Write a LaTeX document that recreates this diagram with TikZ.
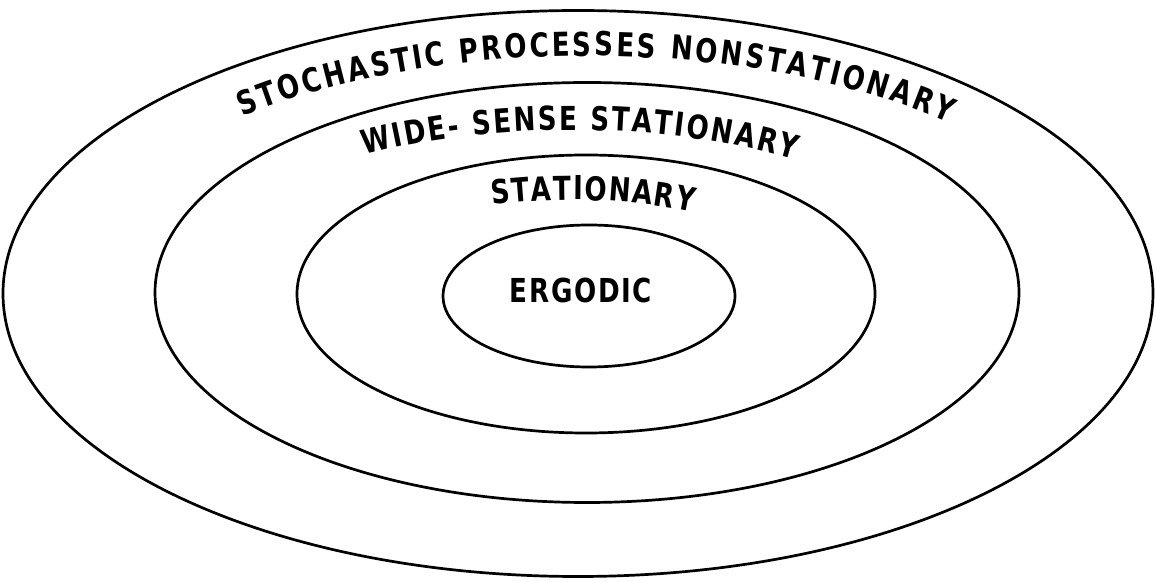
\documentclass[tikz,border=0pt]{standalone}
\usepackage{fontspec}
\setmainfont{DejaVu Sans Condensed}[BoldFont={DejaVu Sans Condensed Bold}]
\newfontfamily\letteringfam{DejaVu Sans Condensed Bold}[FakeStretch=0.88]
\usetikzlibrary{decorations.text}
\newcommand{\lblfont}{\letteringfam\fontsize{33}{38}\selectfont}
\tikzset{
  ring/.style={draw=black, line width=2.7pt},
  curvedlabel/.style={decorate, decoration={text along path, text align={fit to path}, text={#1}}},
}
\begin{document}
\begin{tikzpicture}[x=1pt,y=1pt]
\useasboundingbox (0,0) rectangle (1156,581);
% centres
\coordinate (c1) at (578,287.5);
\coordinate (c2) at (587,288.5);
\coordinate (c3) at (586,287);
\coordinate (c4) at (589,285);
\coordinate (t1) at (588,288);
\coordinate (t2) at (571,289);
\coordinate (t3) at (572,287);
% ellipses
\draw[ring] (c1) ellipse [x radius=575pt, y radius=283pt];
\draw[ring] (c2) ellipse [x radius=432pt, y radius=210pt];
\draw[ring] (c3) ellipse [x radius=289pt, y radius=139pt];
\draw[ring] (c4) ellipse [x radius=146pt, y radius=71pt];
% curved labels
\path[curvedlabel={|\lblfont|STOCHASTIC PROCESSES NONSTATIONARY}]
  (t1) ++(132:517pt and 237pt) arc [start angle=132, end angle=45.8, x radius=517pt, y radius=237pt];
\path[curvedlabel={|\lblfont|WIDE- SENSE STATIONARY}]
  (t2) ++(122.3:386pt and 162pt) arc [start angle=122.3, end angle=54.6, x radius=386pt, y radius=162pt];
\path[curvedlabel={|\lblfont|STATIONARY}]
  (t3) ++(108.8:247pt and 94pt) arc [start angle=108.8, end angle=60.7, x radius=247pt, y radius=94pt];
\node[anchor=base, inner sep=0pt, font=\lblfont\addfontfeatures{LetterSpace=5}] (erg) at (581,278) {ERGODIC};
\end{tikzpicture}
\end{document}
